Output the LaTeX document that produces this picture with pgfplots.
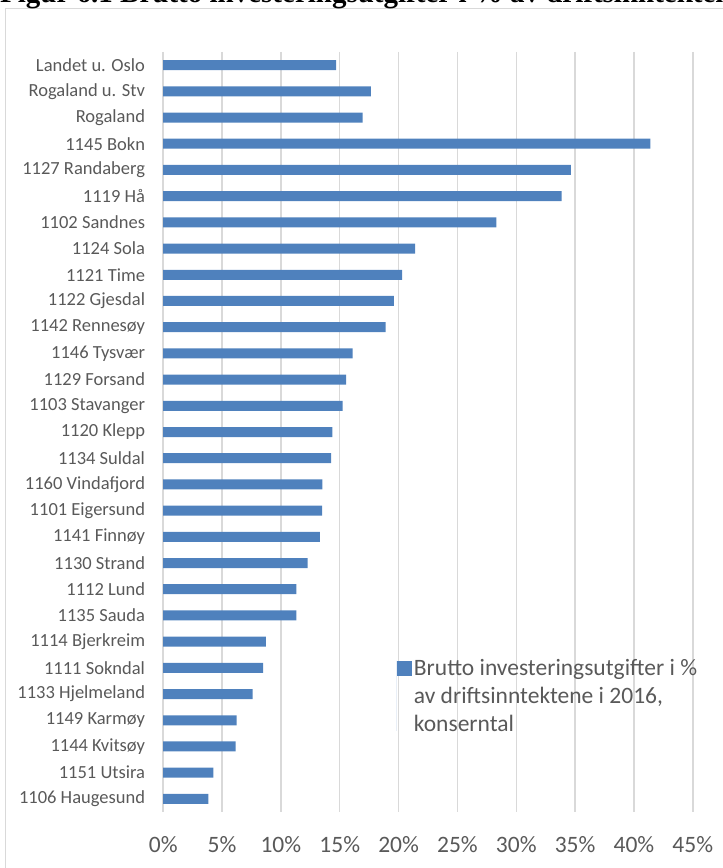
\documentclass[border=0pt]{standalone}
\usepackage{pgfplots}
\pgfplotsset{compat=1.18}
\usepackage{fontspec}
\setmainfont{Carlito}
\newfontfamily\titlefont{Liberation Serif}
\definecolor{barblue}{RGB}{79,129,189}
\definecolor{gridgray}{RGB}{217,217,217}
\definecolor{txtgray}{RGB}{89,89,89}
\begin{document}
\begin{tikzpicture}[x=1bp,y=1bp]
\clip (0,0) rectangle (723,868);
\path[use as bounding box] (0,0) rectangle (723,868);
\draw[gridgray, line width=1.5bp] (5.5,-10) -- (5.5,859.5) -- (740,859.5);
\node[anchor=base west, inner sep=0, font={\titlefont\bfseries\fontsize{29bp}{32bp}\selectfont}] at (0,865.5) {Figur 6.1 Brutto investeringsutgifter i \% av driftsinntektene};
\begin{axis}[
  at={(163.2bp,56bp)}, anchor=south west,
  scale only axis, width=529.6bp, height=760bp,
  xbar, bar width=10bp,
  xmin=0, xmax=45, ymin=-0.5, ymax=28.5, y dir=reverse,
  xtick={0,5,...,45},
  xticklabels={0\%,5\%,10\%,15\%,20\%,25\%,30\%,35\%,40\%,45\%},
  ytick={0,...,28},
  yticklabels={Landet u. Oslo,Rogaland u. Stv,Rogaland,1145 Bokn,1127 Randaberg,1119 Hå,1102 Sandnes,1124 Sola,1121 Time,1122 Gjesdal,1142 Rennesøy,1146 Tysvær,1129 Forsand,1103 Stavanger,1120 Klepp,1134 Suldal,1160 Vindafjord,1101 Eigersund,1141 Finnøy,1130 Strand,1112 Lund,1135 Sauda,1114 Bjerkreim,1111 Sokndal,1133 Hjelmeland,1149 Karmøy,1144 Kvitsøy,1151 Utsira,1106 Haugesund},
  axis line style={draw=none},
  major tick length=0pt,
  tick style={draw=none},
  xmajorgrids, grid style={gridgray, line width=1.5bp},
  yticklabel style={font={\fontsize{18.5bp}{22bp}\selectfont}, text=txtgray, anchor=east, inner sep=0pt, xshift=-18bp},
  xticklabel style={font={\fontsize{23.5bp}{28bp}\selectfont}, text=txtgray, anchor=center, inner sep=0pt, yshift=-33bp},
  /pgf/number format/assume math mode=true,
  legend style={at={(0.441,0.204)}, anchor=north west, draw=none, fill=none, inner sep=0pt,
    font={\fontsize{23.5bp}{28bp}\selectfont}, text=txtgray, cells={align=left}},
  legend cell align=left,
  legend image code/.code={\path (0bp,-35bp) -- (0bp,35bp); \fill[barblue] (0bp,20bp) rectangle (15bp,35bp);},
]
\addplot[fill=barblue, draw=none] coordinates {
(14.7,0) (17.65,1) (16.95,2) (41.4,3) (34.65,4) (33.85,5) (28.3,6) (21.4,7) (20.3,8) (19.6,9)
(18.9,10) (16.1,11) (15.55,12) (15.25,13) (14.37,14) (14.26,15) (13.52,16) (13.5,17) (13.32,18) (12.28,19)
(11.31,20) (11.31,21) (8.73,22) (8.48,23) (7.6,24) (6.24,25) (6.16,26) (4.26,27) (3.83,28)};
\addlegendentry{Brutto investeringsutgifter i \%\\av driftsinntektene i 2016,\\konserntal}
\end{axis}
\end{tikzpicture}
\end{document}
